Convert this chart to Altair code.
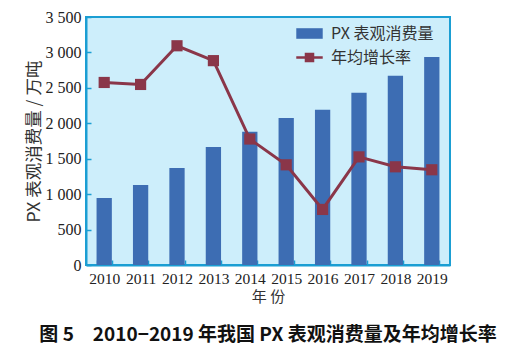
import altair as alt
import pandas as pd

years = ["2010", "2011", "2012", "2013", "2014", "2015", "2016", "2017", "2018", "2019"]
consumption = [945, 1130, 1370, 1665, 1880, 2075, 2190, 2430, 2670, 2935]
growth = [18.4, 18.2, 22.1, 20.6, 12.7, 10.1, 5.6, 10.9, 9.9, 9.6]

df = pd.DataFrame({
    "year": years,
    "consumption": consumption,
    "growth": growth,
    "s1": "PX 表观消费量",
    "s2": "年均增长率",
})

AXIS_COLOR = "#1b9ed3"
BAR_COLOR = "#3d6db3"
LINE_COLOR = "#8a3649"
NUM_FONT = "Liberation Serif"
CJK_FONT = "Noto Sans CJK SC"

x = alt.X("year:N", sort=years,
          scale=alt.Scale(paddingInner=0.58, paddingOuter=0.29),
          axis=alt.Axis(title="年  份", labelAngle=0, labelFont=NUM_FONT, labelFontSize=15.5,
                        labelColor="#222", labelPadding=11, labelOverlap=False,
                        titleFont=CJK_FONT, titleFontSize=15, titleFontWeight="normal",
                        titleColor="#333", titlePadding=3,
                        domainColor=AXIS_COLOR, domainWidth=2,
                        tickColor=AXIS_COLOR, tickBand="extent",
                        tickSize={"expr": "-5"}, tickWidth=1.5))

bars = alt.Chart(df).mark_bar().encode(
    x=x,
    y=alt.Y("consumption:Q",
            scale=alt.Scale(domain=[0, 3500], nice=False),
            axis=alt.Axis(title="PX 表观消费量 / 万吨", values=[0, 500, 1000, 1500, 2000, 2500, 3000, 3500],
                          labelExpr="replace(format(datum.value, ','), ',', ' ')",
                          labelFont=NUM_FONT, labelFontSize=16, labelColor="#222",
                          labelPadding=10,
                          titleFont=CJK_FONT, titleFontSize=17.5, titleFontWeight="normal",
                          titleColor="#333", titlePadding=2,
                          domainColor=AXIS_COLOR, domainWidth=2, grid=False,
                          tickColor=AXIS_COLOR, tickSize={"expr": "-5"}, tickWidth=1.5)),
    color=alt.Color("s1:N", scale=alt.Scale(domain=["PX 表观消费量"], range=[BAR_COLOR]),
                    legend=alt.Legend(title=None, orient="none", legendX=210, legendY=3,
                                      symbolType="M-1,-0.4L1,-0.4L1,0.4L-1,0.4Z",
                                      symbolSize=700, symbolStrokeWidth=0,
                                      labelFont=CJK_FONT, labelFontSize=16, labelColor="#333",
                                      labelOffset=8, padding=0)),
)

y2 = alt.Y("growth:Q",
           scale=alt.Scale(domain=[0, 25], nice=False),
           axis=alt.Axis(title="年均增长率，%", orient="right", values=[0, 5, 10, 15, 20, 25],
                         labelFont=NUM_FONT, labelFontSize=16, labelColor="#222",
                         labelPadding=11,
                         titleFont=CJK_FONT, titleFontSize=16, titleFontWeight="normal",
                         titleColor="#333", titleAngle=270, titlePadding=17,
                         domainColor=AXIS_COLOR, domainWidth=2, grid=False,
                         tickColor=AXIS_COLOR, tickSize={"expr": "-5"}, tickWidth=1.5))

line = alt.Chart(df).mark_line(strokeWidth=3).encode(
    x=alt.X("year:N", sort=years),
    y=y2,
    color=alt.Color("s2:N", scale=alt.Scale(domain=["年均增长率"], range=[LINE_COLOR]),
                    legend=alt.Legend(title=None, orient="none", legendX=210, legendY=27,
                                      symbolType="M-1,-0.1L1,-0.1L1,0.1L-1,0.1Z M-0.36,-0.36L0.36,-0.36L0.36,0.36L-0.36,0.36Z",
                                      symbolSize=700, symbolStrokeWidth=0,
                                      symbolFillColor=LINE_COLOR,
                                      labelFont=CJK_FONT, labelFontSize=16, labelColor="#333",
                                      labelOffset=8, padding=0)),
)

points = alt.Chart(df).mark_point(shape="square", filled=True, size=125, opacity=1).encode(
    x=alt.X("year:N", sort=years),
    y=alt.Y("growth:Q", scale=alt.Scale(domain=[0, 25], nice=False), axis=None),
    color=alt.Color("s2:N", scale=alt.Scale(domain=["年均增长率"], range=[LINE_COLOR]), legend=None),
)

chart = alt.layer(bars, line + points).resolve_scale(
    y="independent", color="independent"
).properties(
    width=364, height=248,
    padding={"left": 86, "top": 17, "right": 70, "bottom": 89},
    autosize=alt.AutoSizeParams(type="none"),
    background="white",
    title=alt.TitleParams(
        text="图 5　2010−2019 年我国 PX 表观消费量及年均增长率",
        orient="bottom", anchor="middle", font=CJK_FONT, fontSize=19,
        fontWeight="bold", color="#111", offset=21,
    ),
).configure_view(
    fill="#cdeefb", stroke=AXIS_COLOR, strokeWidth=2
)

chart.save("out.html", embed_options={"renderer": "svg", "actions": False})
